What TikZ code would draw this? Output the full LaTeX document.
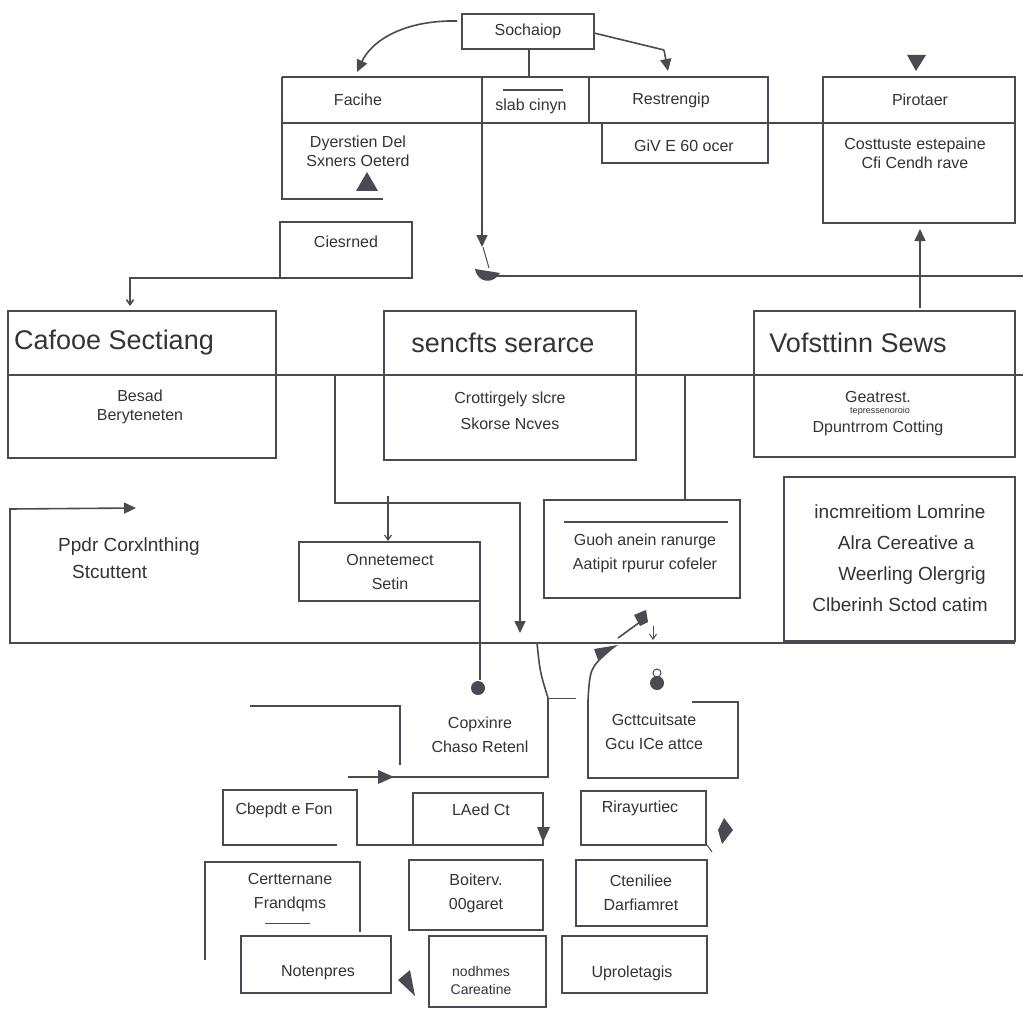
\documentclass[tikz,border=0pt]{standalone}
\usepackage{fontspec}
\setmainfont{Liberation Sans}
\usetikzlibrary{arrows.meta}
\definecolor{lc}{HTML}{4A4A52}
\definecolor{tc}{HTML}{333338}
\begin{document}
\begin{tikzpicture}[x=1pt,y=-1pt,
  ln/.style={draw=lc,line width=1.6pt},
  tri/.style={-{Triangle[length=12pt,width=11pt]}},
  sm/.style={-{Straight Barb[length=5pt,width=7pt]}},
  t/.style={text=tc,font=\fontsize{16}{25}\selectfont,align=center,inner sep=0pt},
  ts/.style={text=tc,font=\fontsize{9}{10}\selectfont,inner sep=0pt},
  big/.style={text=tc,font=\fontsize{27}{30}\selectfont,inner sep=0pt},
  mid/.style={text=tc,font=\fontsize{19}{31}\selectfont,align=center,inner sep=0pt},
]
\fill[white] (0,0) rectangle (1023,1024);
\useasboundingbox (0,0) rectangle (1023,1024);

% ---------- top ----------
\draw[ln] (462,14) rectangle (594,49);
\node[t] (soch) at (528,31) {Sochaiop};
\coordinate (sl) at (457,21);
\coordinate (sla) at (357,72);
\draw[ln,tri] (sl) .. controls (405,20) and (372,40) .. (sla);
\coordinate (sr) at (594,33);
\coordinate (srm) at (664,50);
\coordinate (sra) at (668,71);
\draw[ln] (sr) -- (srm);
\draw[ln,tri] (srm) -- (sra);
\draw[ln] (529,49) -- (529,77);

% strip
\draw[ln] (282,77) -- (768,77) -- (768,163) -- (602,163) -- (602,123);
\draw[ln] (383,199) -- (282,199) -- (282,77);
\draw[ln] (282,123) -- (1015,123);
\draw[ln] (589,77) -- (589,123);
\draw[ln] (503,90) -- (563,90);
\node[t] (faci) at (358,100) {Facihe};
\node[t] (slab) at (531,106) {slab cinyn};
\node[t] (rest) at (671,100) {Restrengip};
\node[t] (dyer) at (358,151) {Dyerstien Del\\[-6pt]Sxners Oeterd};
\fill[lc] (356,191) -- (378,191) -- (367,172) -- cycle;
\node[t] (give) at (684,146) {GiV E 60 ocer};

% Pirotaer
\draw[ln] (823,77) rectangle (1015,223);
\node[t] (piro) at (920,100) {Pirotaer};
\node[t] (cost) at (915,153) {Costtuste estepaine\\[-6pt]Cfi Cendh rave};
\fill[lc] (907,55) -- (926,55) -- (916,71) -- cycle;
\coordinate (pu) at (920,308);
\draw[ln,tri] (pu) -- (piro.south |- 0,229);

% down line from strip
\coordinate (d1) at (482,77);
\coordinate (d2) at (482,247);
\draw[ln,tri] (d1) -- (d2);
\draw[lc,line width=1pt] (483,247) -- (489,268);
\fill[lc] (475,269) .. controls (478,284) and (494,284) .. (500,273) -- cycle;
\draw[ln] (490,276) -- (1023,276);

% Ciesrned
\draw[ln] (280,222) rectangle (412,278);
\node[t] (cies) at (346,242) {Ciesrned};
\coordinate (ca) at (130,306);
\draw[ln,sm] (280,278) -- (130,278) -- (ca);

% ---------- row 2 ----------
\draw[ln] (8,311) rectangle (276,458);
\draw[ln] (384,311) rectangle (636,460);
\draw[ln] (754,311) rectangle (1015,457);
\draw[ln] (8,375) -- (1023,375);
\node[big,anchor=west] (cafo) at (14,343) {Cafooe Sectiang};
\node[t] (besa) at (140,407) {Besad\\[-6pt]Beryteneten};
\node[big] (senc) at (503,343) {sencfts serarce};
\node[t] (crot) at (510,411) {Crottirgely slcre\\[1pt]Skorse Ncves};
\node[big] (vofs) at (858,343) {Vofsttinn Sews};
\node[t] (geat) at (878,397) {Geatrest.};
\node[ts] (tepr) at (880,411) {tepressenoroio};
\node[t] (dpun) at (878,428) {Dpuntrrom Cotting};

\coordinate (v1) at (335,375);
\coordinate (v2) at (520,633);
\draw[ln,tri] (v1) -- (335,503) -- (520,503) -- (v2);
\draw[ln] (685,375) -- (685,500);
\coordinate (on1) at (388,496);
\draw[lc,line width=1.2pt,sm] (on1) -- (388,541);

% ---------- row 3 ----------
\coordinate (fr) at (136,508);
\draw[ln,tri] (1015,643) -- (10,643) -- (10,509) -- (fr);
\node[t,align=left,anchor=west,font=\fontsize{19}{27}\selectfont] (ppdr) at (58,558) {Ppdr Corxlnthing\\\hspace*{14pt}Stcuttent};
\draw[ln] (299,542) rectangle (480,601);
\node[t] (onne) at (390,572) {Onnetemect\\[-1pt]Setin};
\draw[ln] (480,601) -- (480,680);
\fill[lc] (478,688) circle (7);
\draw[ln] (544,500) rectangle (740,598);
\draw[ln] (564,522) -- (728,522);
\node[t] (guoh) at (645,553) {Guoh anein ranurge\\[-1pt]Aatipit rpurur cofeler};
\draw[ln] (784,477) rectangle (1015,641);
\node[mid] (incm) at (900,558) {incmreitiom Lomrine\\\hspace*{12pt}Alra Cereative a\\\hspace*{24pt}Weerling Olergrig\\Clberinh Sctod catim};
\draw[ln] (618,638) -- (640,622);
\fill[lc] (634,615) -- (646,610) -- (648,622) -- (640,626) -- cycle;
\draw[lc,line width=1pt,sm] (653,626) -- (653,640);
\fill[lc] (657,683) circle (7);
\draw[lc,line width=1pt] (657,673) circle (4);

% ---------- row 4 ----------
\coordinate (cp) at (537,643);
\draw[ln] (cp) .. controls (540,672) .. (548,698) -- (548,777) -- (348,777);
\fill[lc] (378,770) -- (378,784) -- (394,777) -- cycle;
\draw[lc,line width=1pt] (548,698) -- (576,698);
\draw[ln] (250,706) -- (400,706) -- (400,765);
\node[t] (copx) at (480,735) {Copxinre\\[-1pt]Chaso Retenl};
\coordinate (gc) at (610,650);
\draw[ln] (gc) .. controls (590,668) .. (588,700) -- (588,778) -- (738,778) -- (738,702) -- (692,702);
\fill[lc] (594,649) -- (618,645) -- (598,660) -- cycle;
\node[t] (gctt) at (654,732) {Gcttcuitsate\\[-1pt]Gcu ICe attce};

\draw[ln] (337,845) -- (223,845) -- (223,790) -- (357,790) -- (357,845) -- (543,845) -- (543,793) -- (413,793) -- (413,845);
\node[t] (cbep) at (284,810) {Cbepdt e Fon};
\node[t] (laed) at (481,810) {LAed Ct};
\fill[lc] (537,827) -- (550,827) -- (543,842) -- cycle;
\draw[ln] (581,791) rectangle (706,845);
\node[t] (rira) at (640,808) {Rirayurtiec};
\fill[lc] (718,830) -- (724,818) -- (733,830) -- (722,844) -- cycle;
\draw[lc,line width=1pt] (707,845) -- (712,852);

\draw[ln] (205,960) -- (205,862) -- (360,862) -- (360,932);
\draw[lc,line width=1pt] (265,923) -- (310,923);
\node[t] (cert) at (290,893) {Certternane\\[-1pt]Frandqms};
\draw[ln] (409,860) rectangle (543,930);
\node[t] (boit) at (476,893) {Boiterv.\\[-1pt]00garet};
\draw[ln] (576,860) rectangle (707,926);
\node[t] (cten) at (641,893) {Cteniliee\\[-1pt]Darfiamret};
\draw[ln] (241,936) rectangle (391,993);
\node[t] (note) at (318,973) {Notenpres};
\fill[lc] (398,980) -- (410,970) -- (415,996) -- cycle;
\draw[ln] (429,936) rectangle (546,1007);
\node[t,font=\fontsize{14}{18}\selectfont] (nodh) at (481,980) {nodhmes\\Careatine};
\draw[ln] (562,936) rectangle (707,993);
\node[t] (upro) at (632,973) {Uproletagis};
\end{tikzpicture}
\end{document}
